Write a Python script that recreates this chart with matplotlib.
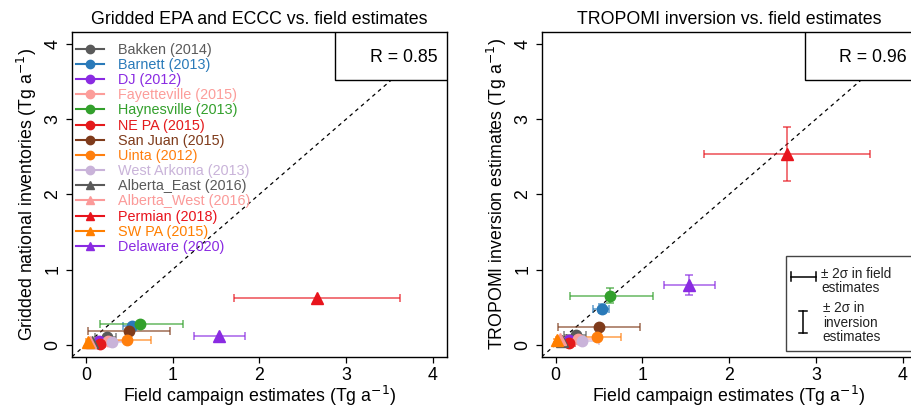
import matplotlib
matplotlib.use("Agg")
import matplotlib.pyplot as plt
from matplotlib.patches import Rectangle
from matplotlib.lines import Line2D

plt.rcParams['font.family'] = ['Liberation Sans', 'DejaVu Sans']

# basin data
names = ["Bakken (2014)", "Barnett (2013)", "DJ (2012)", "Fayetteville (2015)",
         "Haynesville (2013)", "NE PA (2015)", "San Juan (2015)", "Uinta (2012)",
         "West Arkoma (2013)", "Alberta_East (2016)", "Alberta_West (2016)",
         "Permian (2018)", "SW PA (2015)", "Delaware (2020)"]
colors = ["#5a5a5a", "#2a7ab9", "#8a2be2", "#fc9d9a", "#33a02c", "#e41a1c",
          "#7f3b1b", "#ff7f0e", "#c9b3d9", "#5a5a5a", "#fb9a99", "#e8141c",
          "#ff7f00", "#8a2be2"]
markers = ["o"] * 9 + ["^"] * 5

field = [0.24, 0.53, 0.15, 0.26, 0.63, 0.16, 0.50, 0.48, 0.30, 0.07, 0.05, 2.67, 0.02, 1.54]
field_lo = [0.10, 0.43, 0.05, 0.12, 0.165, 0.12, 0.025, 0.22, 0.10, 0.03, 0.02, 1.71, 0.00, 1.25]
field_hi = [0.35, 0.62, 0.27, 0.50, 1.12, 0.22, 0.975, 0.75, 0.50, 0.12, 0.09, 3.62, 0.05, 1.84]
inventory = [0.10, 0.25, 0.05, 0.05, 0.27, 0.01, 0.18, 0.06, 0.03, 0.03, 0.04, 0.62, 0.04, 0.12]
tropomi = [0.13, 0.48, 0.06, 0.07, 0.65, 0.02, 0.23, 0.10, 0.05, 0.05, 0.07, 2.54, 0.06, 0.80]
tropomi_lo = [0.09, 0.42, 0.03, 0.04, 0.55, 0.00, 0.21, 0.08, 0.03, 0.03, 0.04, 2.18, 0.04, 0.66]
tropomi_hi = [0.17, 0.54, 0.09, 0.10, 0.75, 0.04, 0.25, 0.12, 0.07, 0.07, 0.10, 2.89, 0.08, 0.93]
r_values = ["R = 0.85", "R = 0.96"]

fs = 12.8
fig = plt.figure(figsize=(9.12, 4.08), dpi=100)
ax1 = fig.add_axes([0.0789, 0.1257, 0.4109, 0.7958])
ax2 = fig.add_axes([0.594, 0.1257, 0.4109, 0.7958])

for ax, ys, ylo, yhi in [(ax1, inventory, None, None), (ax2, tropomi, tropomi_lo, tropomi_hi)]:
    ax.plot([-0.16, 4.16], [-0.16, 4.16], color="black", ls=(0, (3, 3)), lw=0.9, zorder=1)
    for i in range(len(names)):
        xerr = [[field[i] - field_lo[i]], [field_hi[i] - field[i]]]
        yerr = None
        if ylo is not None:
            yerr = [[ys[i] - ylo[i]], [yhi[i] - ys[i]]]
        ax.errorbar([field[i]], [ys[i]], xerr=xerr, yerr=yerr, fmt="none",
                    ecolor=colors[i], elinewidth=1.1, capsize=3, capthick=1.1,
                    alpha=0.75, zorder=2)
        ax.plot([field[i]], [ys[i]], marker=markers[i], color=colors[i],
                ms=7.5 if markers[i] == "o" else 8, ls="none", zorder=3)
    ax.set_xlim(-0.16, 4.16)
    ax.set_ylim(-0.16, 4.16)
    ax.set_xticks([0, 1, 2, 3, 4])
    ax.set_yticks([0, 1, 2, 3, 4])
    ax.tick_params(direction="out", length=4.5, width=0.9, labelsize=fs, pad=3)
    for lab in ax.get_yticklabels():
        lab.set_rotation(90)
        lab.set_va("center")
    for s in ax.spines.values():
        s.set_linewidth(1.0)
    ax.set_xlabel("Field campaign estimates (Tg a$^{-1}$)", fontsize=fs, labelpad=0)

ax1.set_ylabel("Gridded national inventories (Tg a$^{-1}$)", fontsize=fs, labelpad=4)
ax2.set_ylabel("TROPOMI inversion estimates (Tg a$^{-1}$)", fontsize=fs, labelpad=4)
ax1.set_title("Gridded EPA and ECCC vs. field estimates", fontsize=fs, pad=6)
ax2.set_title("TROPOMI inversion vs. field estimates", fontsize=fs, pad=6)

# R boxes
for ax, rv in [(ax1, r_values[0]), (ax2, r_values[1])]:
    ax.add_patch(Rectangle((0.702, 0.853), 0.298, 0.147, transform=ax.transAxes,
                           facecolor="white", edgecolor="black", lw=1.0, zorder=5))
    ax.text(0.975, 0.923, rv, transform=ax.transAxes, ha="right", va="center",
            fontsize=fs, zorder=6)

# left legend
handles = [Line2D([0], [0], color=c, marker=m, ms=6) for c, m in zip(colors, markers)]
leg = ax1.legend(handles, names, loc="upper left", bbox_to_anchor=(0.0, 0.98),
                 frameon=False, fontsize=10.4, handlelength=1.95, handletextpad=0.95,
                 labelspacing=0.08, borderaxespad=0.1, borderpad=0.2)
for t, c in zip(leg.get_texts(), colors):
    t.set_color(c)

# right legend (error bar key)
ax2.add_patch(Rectangle((0.651, 0.018), 0.344, 0.292, transform=ax2.transAxes,
                        facecolor="white", edgecolor="#444444", lw=1.0, zorder=5))
tr = ax2.transAxes
ax2.add_line(Line2D([0.664, 0.731], [0.246, 0.246], color="black", lw=1.1, transform=tr, zorder=6))
for xx in (0.664, 0.731):
    ax2.add_line(Line2D([xx, xx], [0.232, 0.260], color="black", lw=1.1, transform=tr, zorder=6))
ax2.add_line(Line2D([0.697, 0.697], [0.074, 0.141], color="black", lw=1.1, transform=tr, zorder=6))
for yy in (0.074, 0.141):
    ax2.add_line(Line2D([0.686, 0.708], [yy, yy], color="black", lw=1.1, transform=tr, zorder=6))
ax2.text(0.745, 0.232, "± 2σ in field\nestimates", transform=tr, fontsize=9.8,
         ha="left", va="center", linespacing=1.0, color="#222222", zorder=6)
ax2.text(0.750, 0.104, "± 2σ in\ninversion\nestimates", transform=tr, fontsize=9.8,
         ha="left", va="center", linespacing=1.05, color="#222222", zorder=6)

fig.savefig("out.png", dpi=100)
